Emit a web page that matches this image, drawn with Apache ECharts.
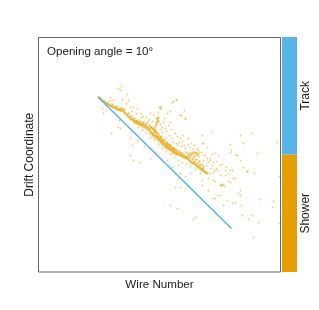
<!DOCTYPE html>
<html><head><meta charset="utf-8">
<style>html,body{margin:0;padding:0;background:#fff}#c{width:319px;height:310px}</style>
<script src="https://cdn.jsdelivr.net/npm/echarts@6/dist/echarts.min.js"></script>
</head><body><div id="c"></div>
<script>
const categories = ['Shower', 'Track'];
const shares = [0.5, 0.5];
const trackLine = [[60,60],[193,191]];
const spineHits = [
[60,60],[61,60],[62,61],[63,62],[64,63],[65,64],[66,64],[67,65],[68,66],[69,66],[70,67],[71,68],[72,68],[73,69],[74,69],[75,70],[76,70],[77,71],[78,71],[79,72],[80,72],[81,72],[82,73],[83,73],[84,73],[85,74],[86,75],[87,76],[88,77],[89,78],[90,79],[91,80],[92,81],[93,82],[94,82],[95,83],[96,83],[97,84],[98,84],[99,85],[100,85],[101,86],[102,86],[103,87],[104,87],[105,87],[106,88],[107,88],[108,89],[109,90],[110,91],[111,92],[112,94],[113,95],[114,96],[115,97],[116,98],[117,98],[118,99],[119,100],[120,101],[121,102],[122,103],[123,104],[124,105],[125,106],[126,107],[127,108],[128,109],[129,109],[130,110],[131,111],[132,111],[133,112],[134,113],[135,114],[136,114],[137,115],[138,115],[139,116],[140,117],[141,117],[142,118],[143,118],[144,119],[145,119],[146,120],[147,120],[148,121],[149,121],[150,122],[151,123],[152,124],[153,125],[154,125],[155,126],[156,126],[157,127],[158,128],[159,129],[160,130],[161,130],[162,131],[163,132],[164,133],[165,133],[166,134],[167,135],[168,135],[169,136],
[74,67],[78,69],[82,71],[84,71],[86,72],[90,76],[93,79],[96,81],[99,83],[102,84],[105,85],[108,86],[111,88],[113,90],[115,92],[117,94],[119,96],[120,97],[122,99],[123,100],[125,102],[126,103],[128,105],[129,106],[131,107],[132,108],[134,110],[135,111],[137,112],[138,113],[140,114],[142,115],
[112,90],[114,91],[116,93],[118,95],[120,99],[122,101],[124,103],[126,105],[128,107],[130,108],[132,109],[134,111],[136,112],[138,117],[136,116],[134,115],[132,113],[130,112],[128,111],[126,109],[124,107],[122,105],[120,103],[118,101],[116,100],[114,98],[112,96],[110,93],[108,91],[106,90],[104,89],[102,88],[100,87],[98,86],[96,85],
[116,91],[117,89],[118,87],[118,85],[119,83],[119,81],[120,80],[120,84],[117,93],[116,95],
[152,116],[154,116],[155,115],[157,115],[158,116],[160,116],[150,117],[148,115],[152,118],[155,120],[156,118],[159,118],[161,124],[163,127],[165,129],[158,122],[143,116],[145,117],[147,119],[149,119],[151,120],[154,122],[156,124],[159,126],[161,128],[164,131]
];
const scatterHits = [
[80,51],[83,49],[82,53],[89,57],[72,60],[75,63],[72,63],[90,63],[92,70],[95,70],[99,71],[67,68],[64,71],[68,73],[65,76],[121,70],[123,71],[132,74],[129,76],[138,63],[134,65],[142,78],[147,81],[81,83],[80,90],[82,91],[73,96],[92,100],[99,103],[94,108],[106,109],[92,118],[95,123],[102,125],[117,115],[112,121],
[202,98],[214,96],[174,95],[164,98],[192,107],[205,106],[239,105],[193,113],[219,116],[198,118],[202,123],[241,139],[216,136],[209,134],[192,133],[182,128],[172,121],[177,116],[169,110],[165,106],[184,148],[186,149],[183,147],[185,147],[179,158],[175,161],[192,145],[197,141],[202,153],[202,158],[189,163],[194,166],[197,165],[203,168],[185,168],[222,162],[234,170],[235,164],[204,178],[214,178],[210,182],[220,185],[241,186],[215,200],[132,168],[139,171],[157,180],[155,182],[164,148],[170,153],[175,143],[142,150],[137,150],[179,133],[187,138],
[135,64],[138,62],[122,69],[122,71],[146,73],[143,78],[147,82],[103,76],[112,76],[120,75],[118,81],[126,81],[132,85],[122,87],[127,91],[124,95],[137,96],[145,98],[142,101],[150,101],[134,101],
[138,106],[146,108],[159,111],[164,106],[129,123],[134,130],[140,128],[142,136],[152,136],[147,139],[157,132],[162,136],[165,131],[140,141],[164,143],
[169,121],[174,117],[180,118],[172,123],[192,115],[199,118],[205,130],[167,135],[172,136],[170,141],[175,135],[182,138],[187,133],[190,136],[194,133],[182,148],[183,148],[190,144],[177,144],[195,141],[209,134],[182,158],[177,161],[200,156],
[84,62],[88,66],[94,74],[98,76],[103,80],[108,80],[111,82],[114,84],[100,90],[104,93],[108,96],[112,100],[116,103],[120,107],[124,111],[128,114],[132,117],[136,120],[140,123],[144,125],[148,127],[152,129],[105,79],[110,84],[124,90],[128,94],[131,98],[135,105],[139,108],[143,109],[147,111],[151,110],[155,112],[125,85],[115,78],[130,88],[141,105],[133,92],[128,100],[122,92],[139,99],[144,104],[150,107],[160,113],[166,118],[170,125],[174,128],[178,124],[168,128],[172,131],[176,133],[161,119],[163,115],[165,123],[153,106],[156,108],[178,131],[184,127],[188,130],[175,125]
];
const chart = echarts.init(document.getElementById('c'), null, {renderer:'canvas'});
const font = 'Liberation Sans';
chart.setOption({
  animation:false,
  textStyle:{fontFamily:font},
  title:{text:'Opening angle = 10°',left:47,top:46,padding:0,textStyle:{fontFamily:font,fontSize:11.6,fontWeight:'normal',color:'#1a1a1a'}},
  grid:[
    {left:38.5,top:37.5,width:242,height:234.5,show:true,borderColor:'#666',borderWidth:1,backgroundColor:'#fff'},
    {left:282,top:37,width:15,height:235}
  ],
  xAxis:[
    {gridIndex:0,type:'value',min:0,max:242,name:'Wire Number',nameLocation:'middle',nameGap:7,nameTextStyle:{fontSize:11.6,color:'#1a1a1a',fontFamily:font},axisLabel:{show:false},axisTick:{show:false},axisLine:{show:false},splitLine:{show:false}},
    {gridIndex:1,type:'value',min:0,max:0.5,show:false}
  ],
  yAxis:[
    {gridIndex:0,type:'value',min:0,max:234.5,inverse:true,name:'Drift Coordinate',nameLocation:'middle',nameGap:3,nameTextStyle:{fontSize:12,color:'#1a1a1a',fontFamily:font},axisLabel:{show:false},axisTick:{show:false},axisLine:{show:false},splitLine:{show:false}},
    {gridIndex:1,type:'category',data:categories,position:'right',axisLine:{show:false},axisTick:{show:false},axisLabel:{rotate:90,fontSize:12,color:'#1a1a1a',fontFamily:font,margin:9,align:'center',verticalAlign:'middle'}}
  ],
  series:[
    {type:'scatter',xAxisIndex:0,yAxisIndex:0,data:scatterHits,symbol:'rect',symbolSize:1.6,itemStyle:{color:'#E69F00',opacity:0.55},silent:true},
    {type:'line',xAxisIndex:0,yAxisIndex:0,data:trackLine,symbol:'none',lineStyle:{color:'#56B4E9',width:1.5},silent:true},
    {type:'scatter',xAxisIndex:0,yAxisIndex:0,data:spineHits,symbol:'rect',symbolSize:2,itemStyle:{color:'#E69F00',opacity:0.7},silent:true},
    {type:'bar',xAxisIndex:1,yAxisIndex:1,data:[
      {value:shares[0],itemStyle:{color:'#E69F00'}},
      {value:shares[1],itemStyle:{color:'#56B4E9'}}
    ],barWidth:'100%',silent:true}
  ]
});
</script></body></html>
